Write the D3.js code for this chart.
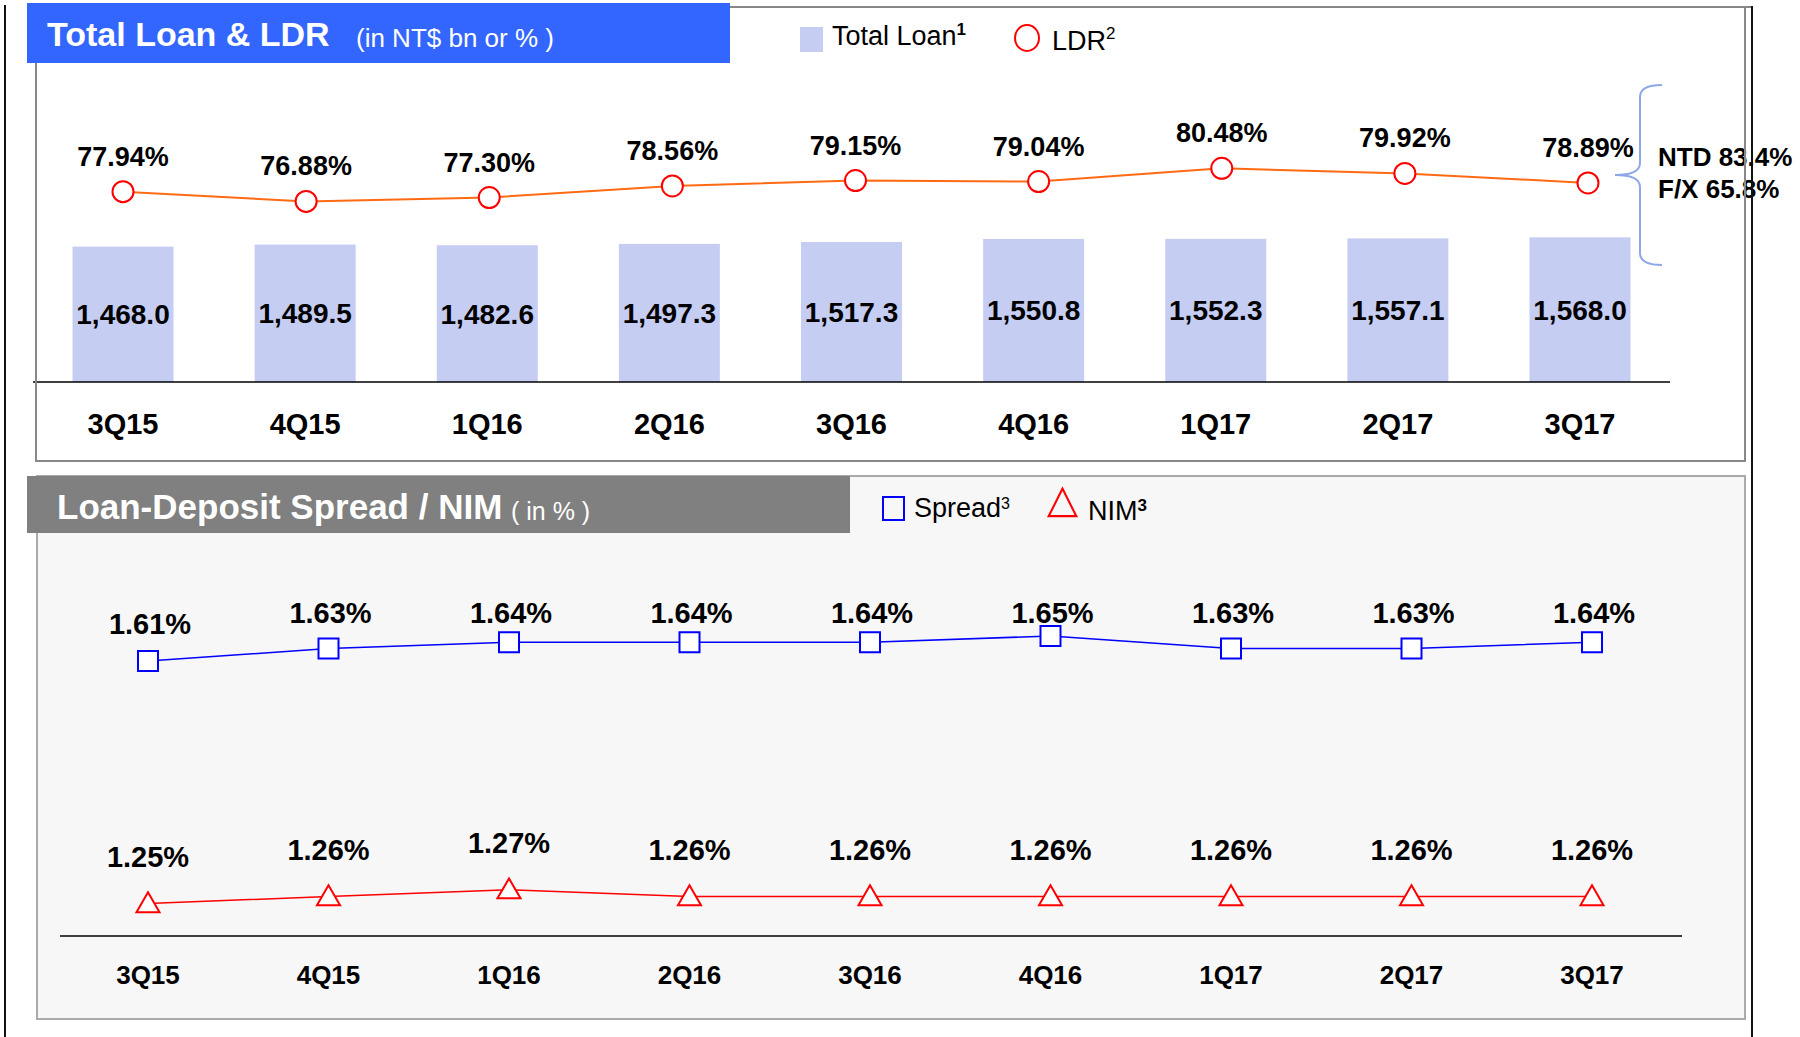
<!DOCTYPE html>
<html lang="en">
	<head>
		<meta charset="utf-8">
		<title>Total Loan & LDR / Loan-Deposit Spread & NIM</title>
		<script type="text/javascript" src="https://cdnjs.cloudflare.com/ajax/libs/d3/7.8.5/d3.min.js"></script>
		<style type="text/css">
			body { margin:0; background:#ffffff; }
			text { font-family:"Liberation Sans", Arial, sans-serif; }
		</style>
	</head>
	<body>
		<script type="text/javascript">
			//Width and height
			var w = 1800;
			var h = 1037;

			//Data
			var quarters = ["3Q15", "4Q15", "1Q16", "2Q16", "3Q16", "4Q16", "1Q17", "2Q17", "3Q17"];
			var totalLoan = [1468.0, 1489.5, 1482.6, 1497.3, 1517.3, 1550.8, 1552.3, 1557.1, 1568.0];
			var ldr = [77.94, 76.88, 77.30, 78.56, 79.15, 79.04, 80.48, 79.92, 78.89];
			var spread = [1.61, 1.63, 1.64, 1.64, 1.64, 1.65, 1.63, 1.63, 1.64];
			var nim = [1.25, 1.26, 1.27, 1.26, 1.26, 1.26, 1.26, 1.26, 1.26];
			var ldrSplit = ["NTD 83.4%", "F/X 65.8%"];

			var svg = d3.select("body")
						.append("svg")
						.attr("width", w)
						.attr("height", h);

			// ---------- top panel ----------
			svg.append("rect")
			   .attr("x", 36).attr("y", 7)
			   .attr("width", 1745 - 36).attr("height", 461 - 7)
			   .attr("fill", "#ffffff");

			//scales for the top chart
			var xBar = d3.scalePoint().domain(quarters).range([123, 1580]);
			var xLdr = d3.scalePoint().domain(quarters).range([123, 1588]);
			var yLoan = d3.scaleLinear().domain([0, 2000]).range([382, 197.5]);
			var yLdr = d3.scaleLinear().domain([76, 81]).range([209.5, 163.5]);
			var barW = 101;

			svg.selectAll("rect.bar")
			   .data(totalLoan)
			   .enter()
			   .append("rect")
			   .attr("class", "bar")
			   .attr("x", function(d, i) { return xBar(quarters[i]) - barW / 2; })
			   .attr("y", function(d) { return yLoan(d); })
			   .attr("width", barW)
			   .attr("height", function(d) { return yLoan(0) - yLoan(d); })
			   .attr("fill", "#c5cdf3");

			svg.selectAll("text.barval")
			   .data(totalLoan)
			   .enter()
			   .append("text")
			   .attr("class", "barval")
			   .text(function(d) { return d3.format(",.1f")(d); })
			   .attr("text-anchor", "middle")
			   .attr("x", function(d, i) { return xBar(quarters[i]); })
			   .attr("y", function(d) { return (yLoan(d) + yLoan(0)) / 2 + 10; })
			   .attr("font-size", "28px")
			   .attr("font-weight", "bold")
			   .attr("fill", "#000");

			//baseline + category labels
			svg.append("line")
			   .attr("x1", 33).attr("x2", 1670)
			   .attr("y1", 382).attr("y2", 382)
			   .attr("stroke", "#000").attr("stroke-width", 1.5);

			svg.selectAll("text.topcat")
			   .data(quarters)
			   .enter()
			   .append("text")
			   .attr("class", "topcat")
			   .text(function(d) { return d; })
			   .attr("text-anchor", "middle")
			   .attr("x", function(d) { return xBar(d); })
			   .attr("y", 434)
			   .attr("font-size", "29px")
			   .attr("font-weight", "bold");

			//LDR line
			var ldrLine = d3.line()
							.x(function(d, i) { return xLdr(quarters[i]); })
							.y(function(d) { return yLdr(d); });

			svg.append("path")
			   .datum(ldr)
			   .attr("d", ldrLine)
			   .attr("fill", "none")
			   .attr("stroke", "#ff6a13")
			   .attr("stroke-width", 2);

			svg.selectAll("ellipse.ldr")
			   .data(ldr)
			   .enter()
			   .append("ellipse")
			   .attr("class", "ldr")
			   .attr("cx", function(d, i) { return xLdr(quarters[i]); })
			   .attr("cy", function(d) { return yLdr(d); })
			   .attr("rx", 10.5).attr("ry", 10.5)
			   .attr("fill", "#fff")
			   .attr("stroke", "#ff0000")
			   .attr("stroke-width", 2);

			svg.selectAll("text.ldrval")
			   .data(ldr)
			   .enter()
			   .append("text")
			   .attr("class", "ldrval")
			   .text(function(d) { return d.toFixed(2) + "%"; })
			   .attr("text-anchor", "middle")
			   .attr("x", function(d, i) { return xLdr(quarters[i]); })
			   .attr("y", function(d) { return yLdr(d) - 26; })
			   .attr("font-size", "27px")
			   .attr("font-weight", "bold");

			//brace and NTD / FX split
			svg.append("path")
			   .attr("d", "M1662,85 Q1640,85 1640,97 L1640,163 Q1640,175 1615,175 Q1640,175 1640,187 L1640,253 Q1640,265 1662,265")
			   .attr("fill", "none")
			   .attr("stroke", "#8ea8e8")
			   .attr("stroke-width", 2);

			svg.selectAll("text.split")
			   .data(ldrSplit)
			   .enter()
			   .append("text")
			   .attr("class", "split")
			   .text(function(d) { return d; })
			   .attr("x", 1658)
			   .attr("y", function(d, i) { return 166 + i * 32; })
			   .attr("font-size", "26px")
			   .attr("font-weight", "bold");

			//top panel border
			svg.append("rect")
			   .attr("x", 36).attr("y", 7)
			   .attr("width", 1745 - 36).attr("height", 461 - 7)
			   .attr("fill", "none")
			   .attr("stroke", "#888")
			   .attr("stroke-width", 2);

			//title
			svg.append("rect")
			   .attr("x", 27).attr("y", 3)
			   .attr("width", 703).attr("height", 60)
			   .attr("fill", "#3366ff");
			svg.append("text")
			   .attr("x", 47).attr("y", 46)
			   .attr("fill", "#fff")
			   .attr("font-size", "34px")
			   .attr("font-weight", "bold")
			   .text("Total Loan & LDR");
			svg.append("text")
			   .attr("x", 356).attr("y", 47)
			   .attr("fill", "#fff")
			   .attr("font-size", "26px")
			   .text("(in NT$ bn or % )");

			//legend
			svg.append("rect")
			   .attr("x", 800).attr("y", 27)
			   .attr("width", 23).attr("height", 25)
			   .attr("fill", "#c5cdf3");
			var lg1 = svg.append("text").attr("x", 832).attr("y", 45).attr("font-size", "27px");
			lg1.append("tspan").text("Total Loan");
			lg1.append("tspan").attr("dy", -10).attr("font-size", "17px").attr("font-weight", "bold").text("1");
			svg.append("ellipse")
			   .attr("cx", 1027).attr("cy", 38)
			   .attr("rx", 12).attr("ry", 13)
			   .attr("fill", "none")
			   .attr("stroke", "#ff0000")
			   .attr("stroke-width", 2);
			var lg2 = svg.append("text").attr("x", 1052).attr("y", 50).attr("font-size", "27px");
			lg2.append("tspan").text("LDR");
			lg2.append("tspan").attr("dy", -11).attr("font-size", "17px").text("2");

			// ---------- bottom panel ----------
			svg.append("rect")
			   .attr("x", 37).attr("y", 476)
			   .attr("width", 1745 - 37).attr("height", 1019 - 476)
			   .attr("fill", "#f7f7f7")
			   .attr("stroke", "#aaaaaa")
			   .attr("stroke-width", 2);

			svg.append("rect")
			   .attr("x", 27).attr("y", 476)
			   .attr("width", 823).attr("height", 57)
			   .attr("fill", "#808080");
			svg.append("text")
			   .attr("x", 57).attr("y", 519)
			   .attr("fill", "#fff")
			   .attr("font-size", "35px")
			   .attr("font-weight", "bold")
			   .text("Loan-Deposit Spread / NIM");
			svg.append("text")
			   .attr("x", 511).attr("y", 520)
			   .attr("fill", "#fff")
			   .attr("font-size", "25px")
			   .text("( in % )");

			//legend
			svg.append("rect")
			   .attr("x", 883).attr("y", 497)
			   .attr("width", 21).attr("height", 23)
			   .attr("fill", "none")
			   .attr("stroke", "#0000ff")
			   .attr("stroke-width", 2);
			var lg3 = svg.append("text").attr("x", 914).attr("y", 517).attr("font-size", "27px");
			lg3.append("tspan").text("Spread");
			lg3.append("tspan").attr("dy", -8).attr("font-size", "16px").text("3");
			svg.append("path")
			   .attr("d", d3.symbol().type(d3.symbolTriangle).size(330))
			   .attr("transform", "translate(1062.5,507) scale(1,1.15)")
			   .attr("fill", "none")
			   .attr("stroke", "#ff0000")
			   .attr("stroke-width", 2);
			var lg4 = svg.append("text").attr("x", 1088).attr("y", 520).attr("font-size", "27px");
			lg4.append("tspan").text("NIM");
			lg4.append("tspan").attr("dy", -9).attr("font-size", "17px").attr("font-weight", "bold").text("3");

			//scales for the bottom chart
			var xB = d3.scalePoint().domain(quarters).range([148, 1592]);
			var ySpread = d3.scaleLinear().domain([1.5, 1.7]).range([729.75, 604.75]);
			var yNim = d3.scaleLinear().domain([1.2, 1.3]).range([938, 869]);

			svg.append("line")
			   .attr("x1", 60).attr("x2", 1682)
			   .attr("y1", 936).attr("y2", 936)
			   .attr("stroke", "#000").attr("stroke-width", 1.5);

			svg.selectAll("text.botcat")
			   .data(quarters)
			   .enter()
			   .append("text")
			   .attr("class", "botcat")
			   .text(function(d) { return d; })
			   .attr("text-anchor", "middle")
			   .attr("x", function(d) { return xB(d); })
			   .attr("y", 984)
			   .attr("font-size", "26px")
			   .attr("font-weight", "bold");

			//spread
			svg.append("path")
			   .datum(spread)
			   .attr("d", d3.line()
							.x(function(d, i) { return xB(quarters[i]); })
							.y(function(d) { return ySpread(d); }))
			   .attr("fill", "none")
			   .attr("stroke", "#0000ff")
			   .attr("stroke-width", 1.5);

			svg.selectAll("rect.spread")
			   .data(spread)
			   .enter()
			   .append("rect")
			   .attr("class", "spread")
			   .attr("x", function(d, i) { return xB(quarters[i]) - 10; })
			   .attr("y", function(d) { return ySpread(d) - 10; })
			   .attr("width", 20).attr("height", 20)
			   .attr("fill", "#fff")
			   .attr("stroke", "#0000ff")
			   .attr("stroke-width", 2);

			svg.selectAll("text.spreadval")
			   .data(spread)
			   .enter()
			   .append("text")
			   .attr("class", "spreadval")
			   .text(function(d) { return d.toFixed(2) + "%"; })
			   .attr("text-anchor", "middle")
			   .attr("x", function(d, i) { return xB(quarters[i]) + 2; })
			   .attr("y", function(d) { return Math.max(ySpread(d) - 37, 613) + 10; })
			   .attr("font-size", "29px")
			   .attr("font-weight", "bold");

			//NIM
			svg.append("path")
			   .datum(nim)
			   .attr("d", d3.line()
							.x(function(d, i) { return xB(quarters[i]); })
							.y(function(d) { return yNim(d); }))
			   .attr("fill", "none")
			   .attr("stroke", "#ff0000")
			   .attr("stroke-width", 1.5);

			svg.selectAll("path.nim")
			   .data(nim)
			   .enter()
			   .append("path")
			   .attr("class", "nim")
			   .attr("d", d3.symbol().type(d3.symbolTriangle).size(230))
			   .attr("transform", function(d, i) {
					return "translate(" + xB(quarters[i]) + "," + (yNim(d) + 2) + ")";
			   })
			   .attr("fill", "#fff")
			   .attr("stroke", "#ff0000")
			   .attr("stroke-width", 2);

			svg.selectAll("text.nimval")
			   .data(nim)
			   .enter()
			   .append("text")
			   .attr("class", "nimval")
			   .text(function(d) { return d.toFixed(2) + "%"; })
			   .attr("text-anchor", "middle")
			   .attr("x", function(d, i) { return xB(quarters[i]); })
			   .attr("y", function(d) { return yNim(d) - 47 + 10; })
			   .attr("font-size", "29px")
			   .attr("font-weight", "bold");

			// ---------- outer frame ----------
			svg.append("line")
			   .attr("x1", 730).attr("x2", 1753)
			   .attr("y1", 7).attr("y2", 7)
			   .attr("stroke", "#888").attr("stroke-width", 2);
			svg.append("line")
			   .attr("x1", 5).attr("x2", 5)
			   .attr("y1", 5).attr("y2", h)
			   .attr("stroke", "#111").attr("stroke-width", 2);
			svg.append("line")
			   .attr("x1", 1752).attr("x2", 1752)
			   .attr("y1", 6).attr("y2", h)
			   .attr("stroke", "#111").attr("stroke-width", 2);
		</script>
	</body>
</html>
